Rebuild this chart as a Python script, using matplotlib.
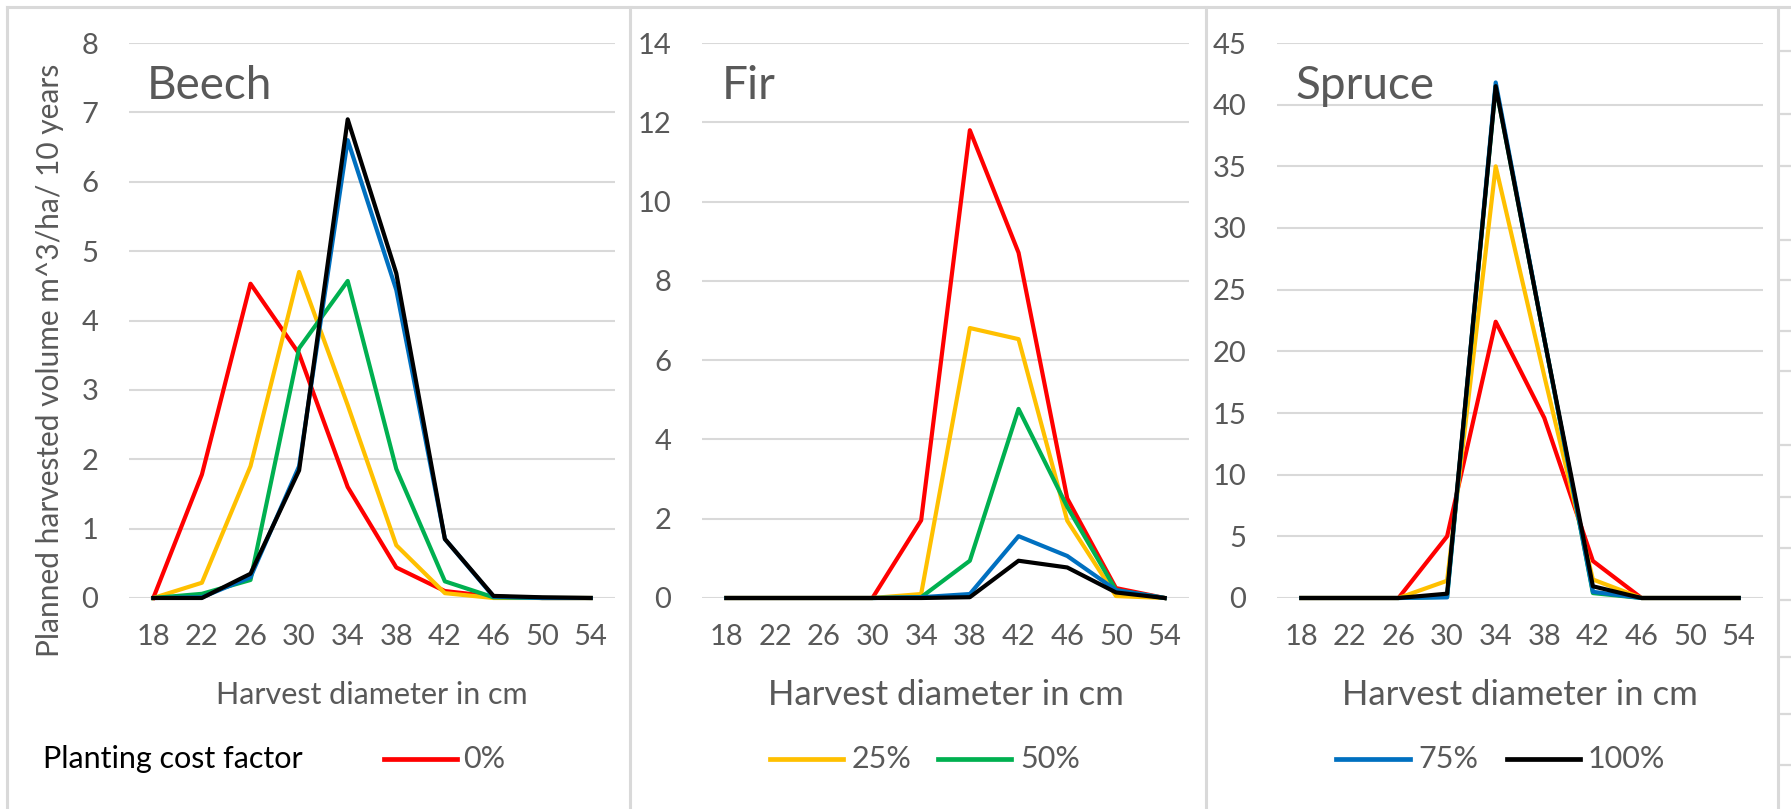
import matplotlib
matplotlib.use("Agg")
import matplotlib.pyplot as plt
from matplotlib.lines import Line2D

plt.rcParams['font.family'] = ['Lato', 'DejaVu Sans']

# --- data ---
diameters = [18, 22, 26, 30, 34, 38, 42, 46, 50, 54]
factors = ['0%', '25%', '50%', '75%', '100%']
colors = ['#ff0000', '#ffc000', '#00b050', '#0070c0', '#000000']

beech_0 = [0, 1.78, 4.53, 3.52, 1.6, 0.44, 0.1, 0.02, 0, 0]
beech_25 = [0, 0.22, 1.9, 4.7, 2.78, 0.76, 0.07, 0, 0, 0]
beech_50 = [0, 0.06, 0.26, 3.6, 4.57, 1.86, 0.24, 0.01, 0, 0]
beech_75 = [0, 0.01, 0.3, 1.9, 6.6, 4.44, 0.85, 0.02, 0, 0]
beech_100 = [0, 0, 0.35, 1.84, 6.9, 4.68, 0.85, 0.03, 0.01, 0]

fir_0 = [0, 0, 0, 0, 1.96, 11.8, 8.71, 2.51, 0.25, 0]
fir_25 = [0, 0, 0, 0, 0.1, 6.81, 6.53, 1.95, 0.05, 0]
fir_50 = [0, 0, 0, 0, 0.02, 0.94, 4.77, 2.3, 0.2, 0]
fir_75 = [0, 0, 0, 0, 0.02, 0.1, 1.56, 1.06, 0.2, 0]
fir_100 = [0, 0, 0, 0, 0, 0.02, 0.94, 0.77, 0.14, 0]

spruce_0 = [0, 0, 0, 5.0, 22.4, 14.6, 3.0, 0, 0, 0]
spruce_25 = [0, 0, 0, 1.4, 35.0, 18.0, 1.5, 0, 0, 0]
spruce_50 = [0, 0, 0, 0.1, 41.5, 21.0, 0.4, 0, 0, 0]
spruce_75 = [0, 0, 0, 0.05, 41.8, 21.0, 0.5, 0, 0, 0]
spruce_100 = [0, 0, 0, 0.35, 41.5, 21.0, 0.95, 0, 0, 0]

W, H = 1791, 809
GRAY = '#595959'
GRID = '#d9d9d9'

fig = plt.figure(figsize=(W / 100, H / 100), dpi=100)


def fx(x):
    return x / W


def fy(y):
    return 1 - y / H


def panel(x0, x1, series, ymax, ystep, xlab_size):
    ax = fig.add_axes([fx(x0), fy(598), fx(x1 - x0), (598 - 43) / H])
    pos = list(range(len(diameters)))
    for vals, c in zip(series, colors):
        ax.plot(pos, vals, color=c, lw=3.0, clip_on=False, zorder=3)
    ax.set_xlim(-0.5, len(diameters) - 0.5)
    ax.set_ylim(0, ymax)
    ax.set_yticks(range(0, ymax + 1, ystep))
    ax.set_xticks(pos)
    ax.set_xticklabels([str(d) for d in diameters])
    ax.grid(axis='y', color=GRID, lw=1.5, zorder=0)
    for s in ax.spines.values():
        s.set_visible(False)
    ax.tick_params(length=0, labelsize=21, labelcolor=GRAY)
    ax.tick_params(axis='y', pad=22)
    ax.tick_params(axis='x', pad=19)
    fig.text(fx((x0 + x1) / 2), fy(695), 'Harvest diameter in cm', ha='center',
             va='center', fontsize=xlab_size, color=GRAY)
    return ax


panel(129, 615, [beech_0, beech_25, beech_50, beech_75, beech_100], 8, 1, 22)
panel(702, 1189, [fir_0, fir_25, fir_50, fir_75, fir_100], 14, 2, 25)
panel(1277, 1763, [spruce_0, spruce_25, spruce_50, spruce_75, spruce_100], 45, 5, 25)

# panel titles
for name, x in [('Beech', 147), ('Fir', 722), ('Spruce', 1296)]:
    fig.text(fx(x), fy(99), name, ha='left', va='baseline', fontsize=33, color=GRAY)

fig.text(fx(50), fy(360), 'Planned harvested volume m^3/ha/ 10 years', rotation=90,
         ha='center', va='center', fontsize=21.5, color=GRAY)

# legend, split across the three panels like in the original
fig.text(fx(43), fy(759), 'Planting cost factor', ha='left', va='center', fontsize=22, color='black')
legend_items = [(384, 457, 463), (770, 843, 852), (938, 1011, 1020), (1336, 1410, 1418), (1507, 1580, 1588)]
for (l0, l1, tx), lab, c in zip(legend_items, factors, colors):
    fig.add_artist(Line2D([fx(l0), fx(l1)], [fy(759), fy(759)], color=c, lw=3.4))
    fig.text(fx(tx), fy(759), lab, ha='left', va='center', fontsize=22, color=GRAY)


# chart frames (screenshot borders)
def fline(xs, ys, lw=2.2):
    fig.add_artist(Line2D([fx(v) for v in xs], [fy(v) for v in ys], color=GRID, lw=lw))


fline([7, W], [7, 7])
fline([7, 7], [7, H])
for xd in [630, 1206, 1778]:
    fline([xd, xd], [7, H])
for yy in [51, 114, 166, 240, 280, 331, 371, 445, 497, 548, 600, 657, 714, 765]:
    fline([1780, W], [yy, yy], lw=1.6)

fig.savefig('out.png', dpi=100)
